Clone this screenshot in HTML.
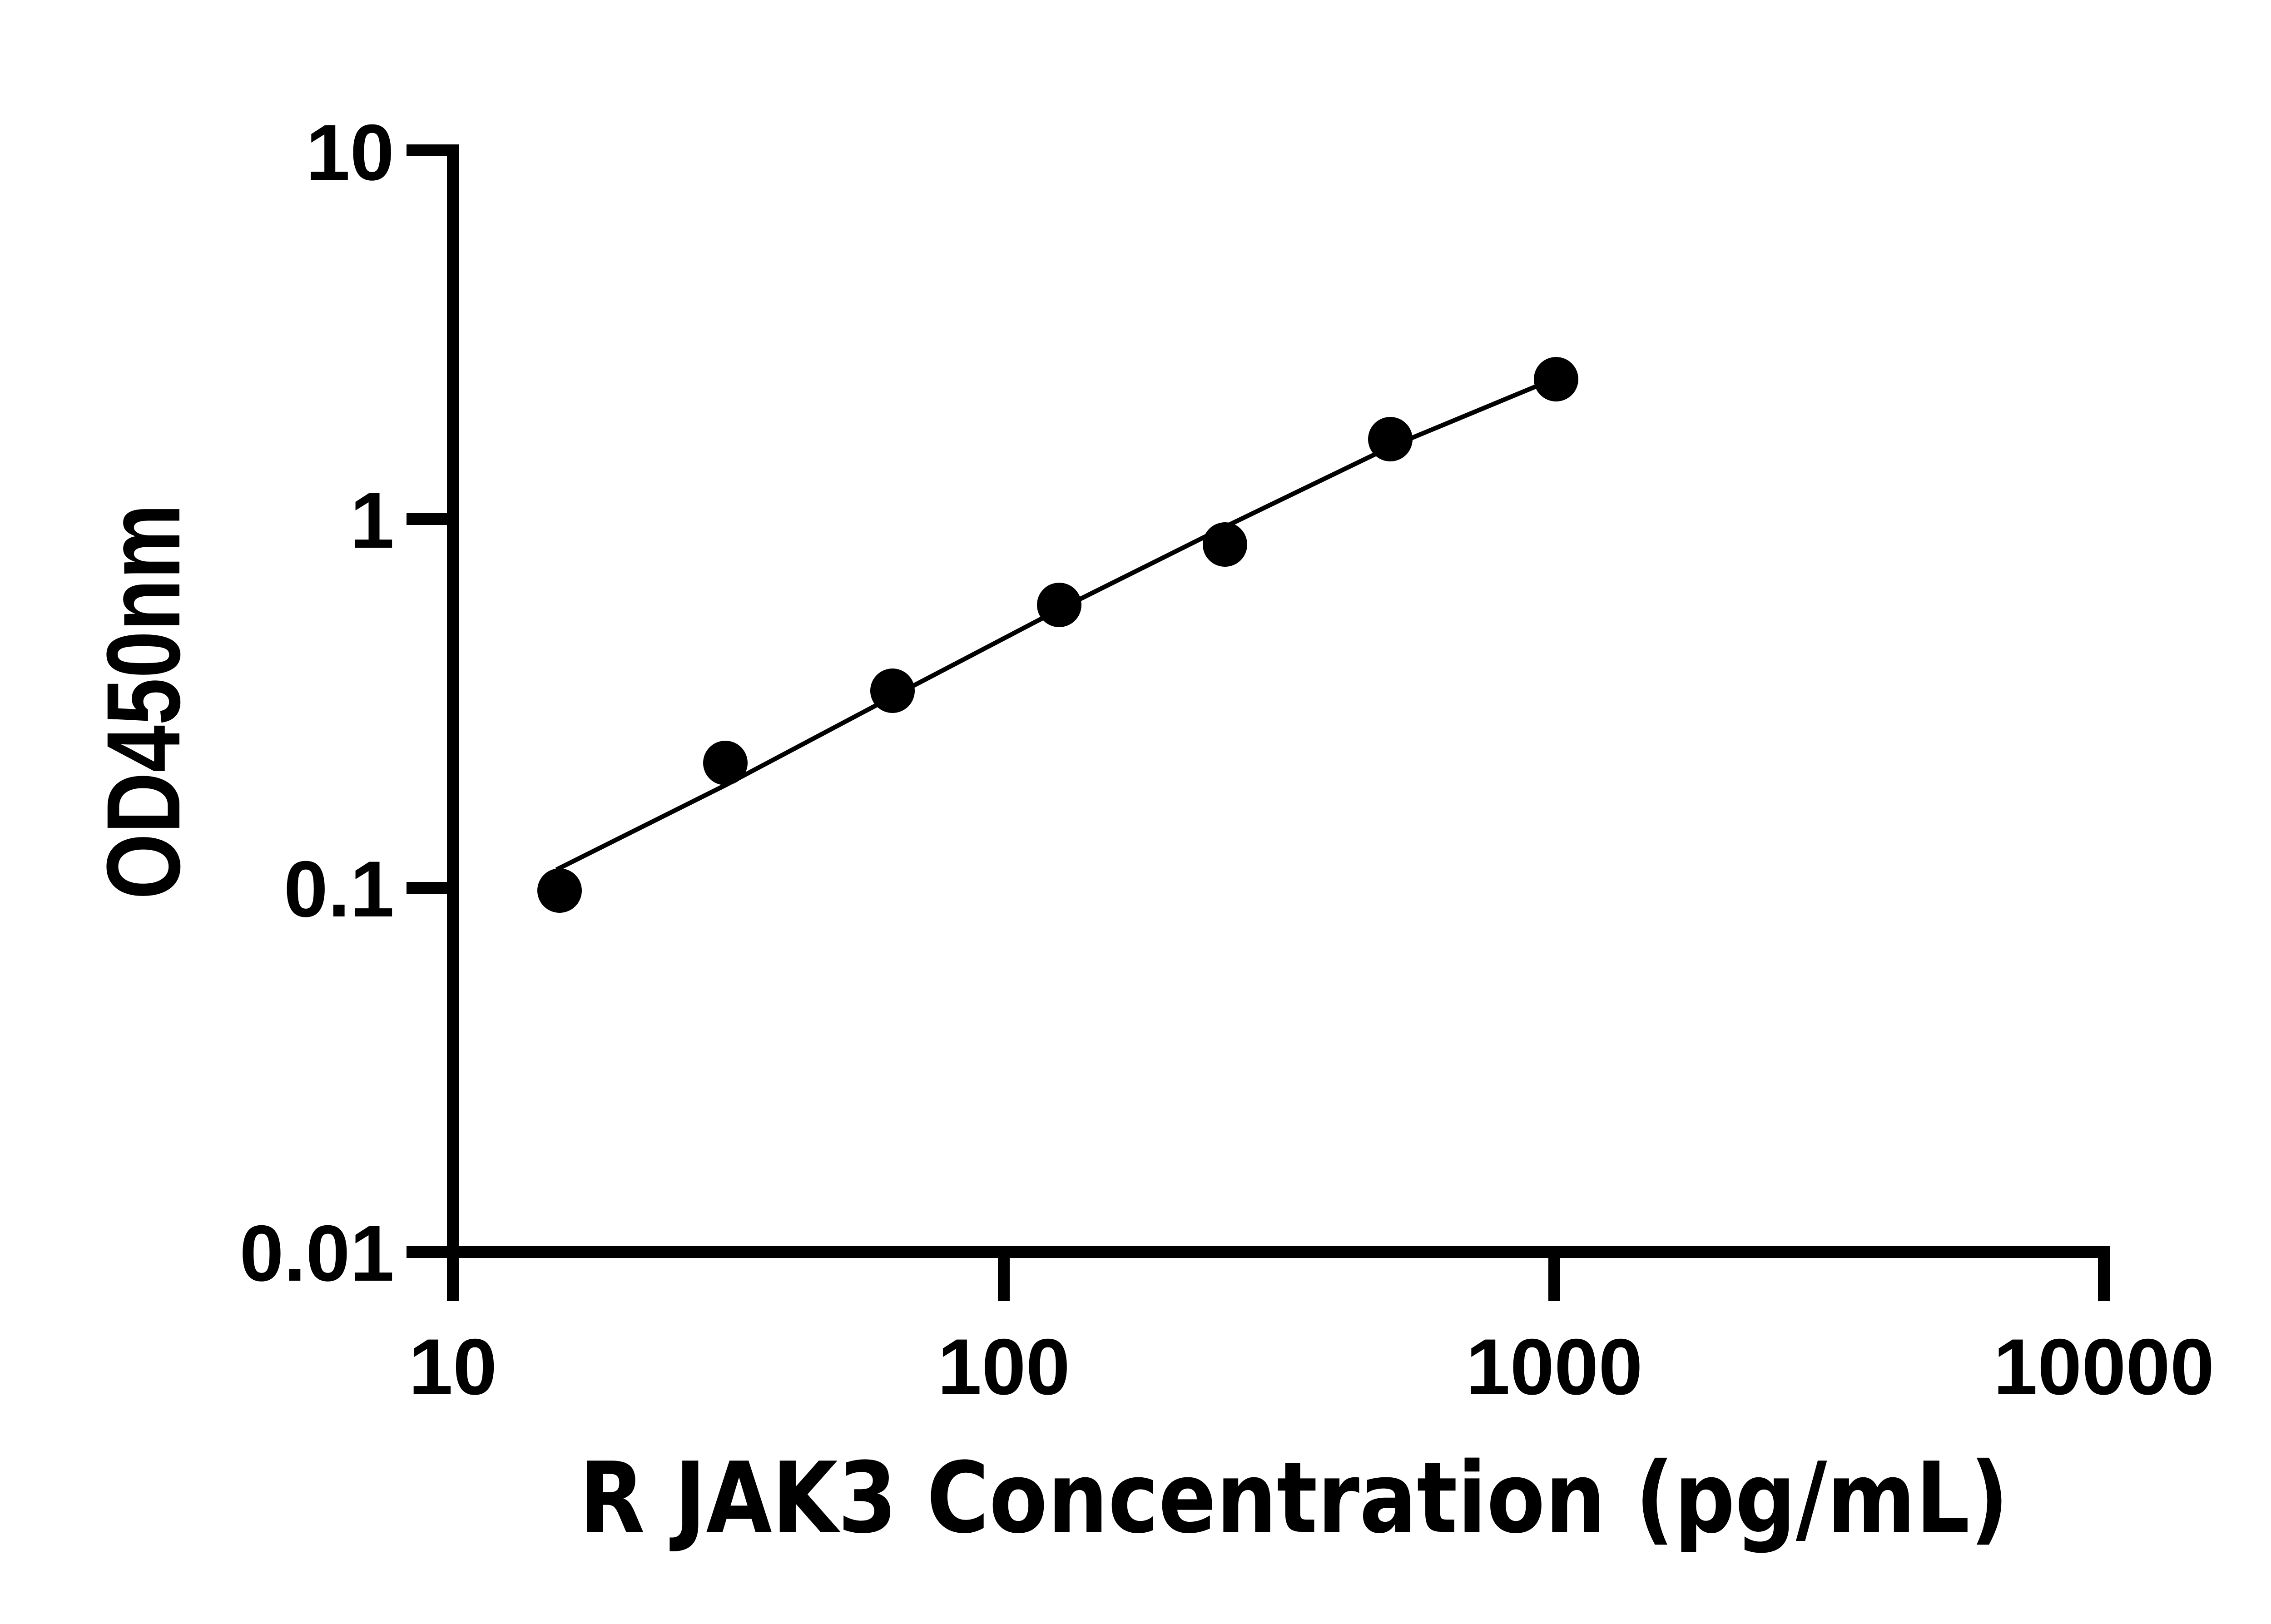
<!DOCTYPE html>
<html><head><style>html,body{margin:0;padding:0;background:#fff}svg{display:block}</style></head>
<body>
<svg width="5142" height="3576" viewBox="0 0 5142 3576" xmlns="http://www.w3.org/2000/svg">
<g stroke="#000" stroke-width="26" fill="none" stroke-linecap="butt">
<polyline points="895,331 997,331 997,2757 4632,2757"/>
<line x1="895" y1="1143" x2="997" y2="1143"/>
<line x1="895" y1="1955" x2="997" y2="1955"/>
<line x1="895" y1="2757" x2="997" y2="2757"/>
<line x1="997" y1="2757" x2="997" y2="2865"/>
<line x1="2210" y1="2757" x2="2210" y2="2865"/>
<line x1="3422" y1="2757" x2="3422" y2="2865"/>
<line x1="4632" y1="2744" x2="4632" y2="2865"/>
</g>
<polyline points="1225,1915 1597,1729 1965,1534 2332,1342 2697,1160 3061,984 3420,835" fill="none" stroke="#000" stroke-width="10"/>
<g fill="#000">
<circle cx="1232" cy="1961" r="49"/><circle cx="1597" cy="1680" r="49"/><circle cx="1965" cy="1521" r="49"/>
<circle cx="2332" cy="1332" r="49"/><circle cx="2697" cy="1199" r="49"/><circle cx="3061" cy="967" r="49"/>
<circle cx="3426" cy="835" r="49"/>
</g>
<g style="font-family:'Liberation Sans',Arial,sans-serif;font-weight:bold;font-size:175px" fill="#000">
<text x="868" y="396" text-anchor="end">10</text>
<text x="868" y="1206" text-anchor="end">1</text>
<text x="868" y="2018" text-anchor="end">0.1</text>
<text x="868" y="2820" text-anchor="end">0.01</text>
<text x="997" y="3070" text-anchor="middle">10</text>
<text x="2210" y="3070" text-anchor="middle">100</text>
<text x="3422" y="3070" text-anchor="middle">1000</text>
<text x="4632" y="3070" text-anchor="middle">10000</text>
<text transform="translate(395,1545) rotate(-90)" text-anchor="middle" style="font-size:230px" textLength="871" lengthAdjust="spacingAndGlyphs">OD450nm</text>
</g>
<text x="2849" y="3373" text-anchor="middle" style="font-family:'DejaVu Sans',sans-serif;font-weight:bold;font-size:215px" textLength="3147" lengthAdjust="spacingAndGlyphs">R JAK3 Concentration (pg/mL)</text>
</svg>
</body></html>
